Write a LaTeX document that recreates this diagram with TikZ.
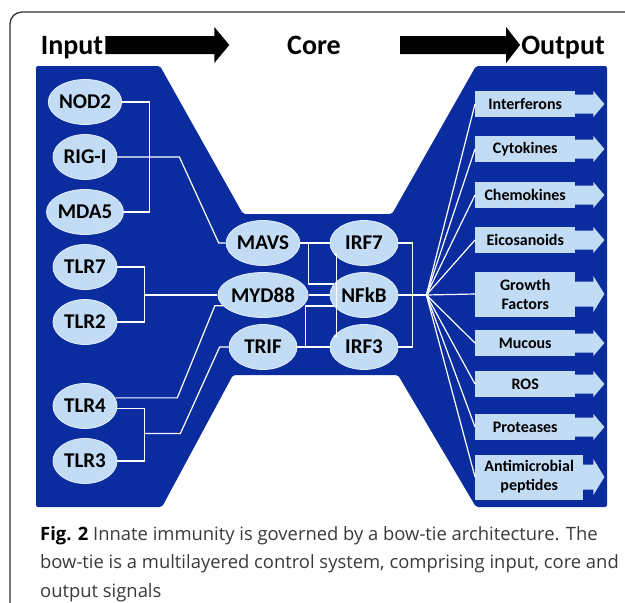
\documentclass[tikz,border=0pt]{standalone}
\usepackage{fontspec}
\setmainfont{Carlito}
\newfontfamily\capfont{Open Sans}
\usepackage{xcolor}
\usetikzlibrary{calc, positioning, shapes.geometric}
\definecolor{bowblue}{HTML}{0B2C9F}
\definecolor{paleblue}{HTML}{C3DCF5}
\definecolor{capgray}{HTML}{3A3A3A}

\begin{document}
\begin{tikzpicture}[x=1pt, y=1pt, node distance=55pt,
	inode/.style={ellipse, fill=paleblue, draw=paleblue!50!white, line width=0.8pt, minimum width=64pt, minimum height=45pt, inner sep=0pt, font=\bfseries\fontsize{21}{21}\selectfont},
	cnode/.style={inode, minimum width=68pt},
	onode/.style={rectangle, fill=paleblue, anchor=west, minimum width=100pt, minimum height=26pt, inner sep=1pt, align=center, font=\bfseries\fontsize{16}{19}\selectfont},
	head/.style={font=\bfseries\fontsize{28}{30}\selectfont, inner sep=0pt, anchor=base},
	wire/.style={draw=white, line width=1.2pt}]
	\useasboundingbox (0,0) rectangle (625,-603);
	% marco %
	\draw[black!80, line width=1.3pt, rounded corners=12pt] (10,-603) -- (10,-12) -- (625,-12);
	% fondo %
	\fill[bowblue, rounded corners=2pt] (36,-66) -- (160,-66) -- (243,-214) -- (392,-214) -- (476,-66) -- (607,-66) -- (607,-507) -- (476,-507) -- (398,-375) -- (233,-375) -- (162,-507) -- (36,-507) -- cycle;
	% titulos %
	\node[head] (input) at (72,-54) {Input};
	\node[head] (core) at (314,-54) {Core};
	\node[head] (output) at (563,-54) {Output};
	\fill ($(input.base east)+(2,18)$) -- ++(109,0) -- ++(0,9) -- ++(15,-18) -- ++(-15,-18) -- ++(0,9) -- ++(-109,0) -- cycle;
	\fill ($(output.base west)+(-121,18)$) -- ++(106,0) -- ++(0,9) -- ++(14,-18) -- ++(-14,-18) -- ++(0,9) -- ++(-106,0) -- cycle;
	% entradas %
	\node[inode] (nod2) at (85,-102) {NOD2};
	\node[inode, below of=nod2] (rigi) {RIG-I};
	\node[inode, below of=rigi] (mda5) {MDA5};
	\node[inode, below of=mda5] (tlr7) {TLR7};
	\node[inode, below of=tlr7] (tlr2) {TLR2};
	\node[inode, node distance=84pt, below of=tlr2] (tlr4) {TLR4};
	\node[inode, below of=tlr4] (tlr3) {TLR3};
	% nucleo %
	\node[cnode] (mavs) at (263,-243) {MAVS};
	\node[cnode, node distance=52pt, below of=mavs] (myd88) {MYD88};
	\node[cnode, node distance=52pt, below of=myd88] (trif) {TRIF};
	\node[cnode] (irf7) at (364,-243) {IRF7};
	\node[cnode, node distance=52pt, below of=irf7] (nfkb) {NFkB};
	\node[cnode, node distance=52pt, below of=nfkb] (irf3) {IRF3};
	% salidas %
	\node[onode] (ifn) at (475,-104) {Interferons};
	\node[onode] (cyt) at (475,-149) {Cytokines};
	\node[onode] (chem) at (475,-195) {Chemokines};
	\node[onode] (eico) at (475,-240) {Eicosanoids};
	\node[onode, minimum height=45pt] (grow) at (475,-294) {Growth\\Factors};
	\node[onode] (muc) at (475,-343) {Mucous};
	\node[onode] (ros) at (475,-384) {ROS};
	\node[onode] (prot) at (475,-427) {Proteases};
	\node[onode, minimum width=108pt, minimum height=45pt] (amp) at (475,-477) {Antimicrobial\\peptides};
	\foreach \n/\l/\s/\h in {ifn/18/9.5/13, cyt/18/9.5/13, chem/18/9.5/13, eico/18/9.5/13, grow/18/12.5/18, muc/18/9.5/13, ros/18/9.5/13, prot/18/9.5/13, amp/10/12.5/18}
		\fill[paleblue] ($(\n.east)+(-1,\s)$) -- ($(\n.east)+(\l,\s)$) -- ($(\n.east)+(\l,\h)$) -- ($(\n.east)+(\l+11,0)$) -- ($(\n.east)+(\l,-\h)$) -- ($(\n.east)+(\l,-\s)$) -- ($(\n.east)+(-1,-\s)$) -- cycle;
	% conexiones %
	\draw[wire] (nod2.east) -- ++(27,0) |- (mda5.east);
	\draw[wire] (rigi.east) -- ++(62,0) -- ($(mavs.west)+(-7,0)$) -- (mavs.west);
	\draw[wire] (tlr7.east) -- ++(27,0) coordinate (b1) |- (tlr2.east);
	\draw[wire] (b1) |- (myd88.west);
	\draw[wire] (tlr4.15) -- ++(62,0) -- ($(myd88.195)+(-8,0)$) -- (myd88.195);
	\draw[wire] (tlr4.-5) -- ++(27,0) coordinate (b2) |- (tlr3.east);
	\draw[wire] ($(tlr4.east)!0.5!(tlr3.east)+(27,0)$) -- ++(36,0) -- ($(trif.west)+(-9,0)$) -- (trif.west);
	\draw[wire] (mavs.east) -- (irf7.west);
	\draw[wire] ($(mavs.east)+(8,0)$) |- (nfkb.160);
	\draw[wire] (myd88.east) -- (nfkb.west);
	\draw[wire] (irf7.200) -| ($(myd88.east)+(28,0)$) |- (irf3.160);
	\draw[wire] (trif.east) -- (irf3.west);
	\draw[wire] ($(trif.east)+(8,0)$) |- (nfkb.200);
	\draw[wire] (irf7.east) -- ++(14,0) |- (irf3.east);
	\draw[wire] (nfkb.east) -- ++(28,0) coordinate (hub);
	\foreach \n in {ifn,cyt,chem,eico,grow,muc,ros,prot,amp}
		\draw[wire] (hub) -- (\n.west);
	% leyenda %
	\node[anchor=north west, inner sep=0pt, align=left, text=capgray, font=\capfont\fontsize{18.4}{28.5}\selectfont] (caption) at (40,-526) {\textcolor{black}{\textbf{Fig. 2}} Innate immunity is governed by a bow-tie architecture. The\\bow-tie is a multilayered control system, comprising input, core and\\output signals};
\end{tikzpicture}
\end{document}
